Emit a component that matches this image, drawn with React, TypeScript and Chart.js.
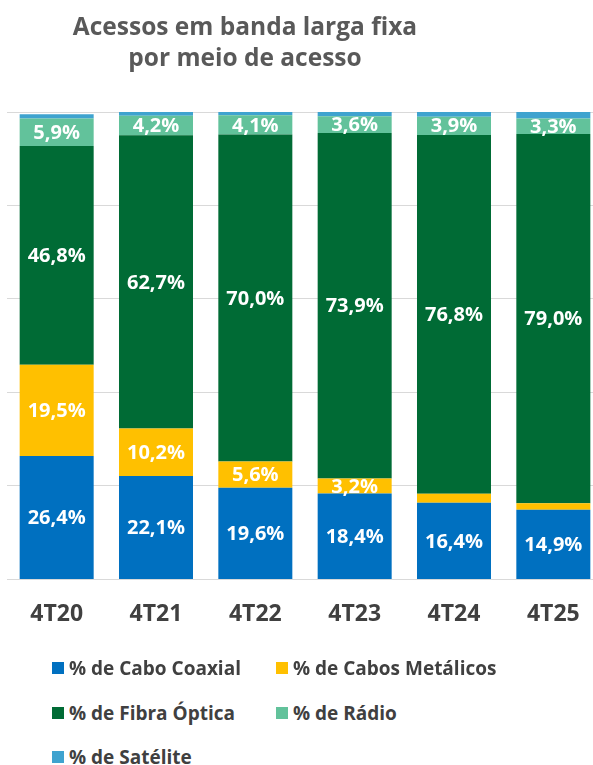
import React, { useEffect, useRef } from "react";
import { Chart, registerables } from "chart.js";

Chart.register(...registerables);

const categories = ["4T20", "4T21", "4T22", "4T23", "4T24", "4T25"];
const coaxial = [26.4, 22.1, 19.6, 18.4, 16.4, 14.9];
const metalicos = [19.5, 10.2, 5.6, 3.2, 1.9, 1.4];
const fibra = [46.8, 62.7, 70.0, 73.9, 76.8, 79.0];
const radio = [5.9, 4.2, 4.1, 3.6, 3.9, 3.3];
const satelite = [0.9, 0.8, 0.7, 0.9, 1.1, 1.4];

const seriesNames = [
  "% de Cabo Coaxial",
  "% de Cabos Metálicos",
  "% de Fibra Óptica",
  "% de Rádio",
  "% de Satélite",
];
const seriesColors = ["#0070C0", "#FFC000", "#006B35", "#62C29B", "#3FA3CF"];
const seriesValues = [coaxial, metalicos, fibra, radio, satelite];
const titleLines = ["Acessos em banda larga fixa", "por meio de acesso"];

const FONT = "'Open Sans', 'Noto Sans', sans-serif";

const labelPlugin = {
  id: "segLabels",
  afterDatasetsDraw(chart: any) {
    const ctx = chart.ctx;
    ctx.save();
    ctx.font = `bold 20px ${FONT}`;
    ctx.fillStyle = "#FFFFFF";
    ctx.textAlign = "center";
    ctx.textBaseline = "middle";
    chart.data.datasets.forEach((ds: any, di: number) => {
      const meta = chart.getDatasetMeta(di);
      meta.data.forEach((el: any, i: number) => {
        const v = ds.data[i];
        if (v < 3) return;
        const y = (el.y + el.base) / 2;
        ctx.fillText(v.toFixed(1).replace(".", ",") + "%", el.x, y + 1);
      });
    });
    ctx.restore();
  },
};

function ChartCanvas() {
  const ref = useRef<HTMLCanvasElement | null>(null);
  useEffect(() => {
    if (!ref.current) return;
    const chart = new Chart(ref.current, {
      type: "bar",
      data: {
        labels: categories,
        datasets: seriesNames.map((name, i) => ({
          label: name,
          data: seriesValues[i],
          backgroundColor: seriesColors[i],
          borderWidth: 0,
          barPercentage: 0.745,
          categoryPercentage: 1,
        })),
      },
      options: {
        responsive: false,
        animation: false,
        devicePixelRatio: 1,
        layout: { padding: { top: 112, left: 7, right: 7, bottom: 9 } },
        plugins: {
          legend: { display: false },
          title: { display: false },
          tooltip: { enabled: false },
        },
        scales: {
          x: {
            stacked: true,
            grid: { display: false, drawTicks: false },
            border: { display: false },
            ticks: {
              color: "#404040",
              padding: 21,
              font: { family: FONT, size: 23, weight: "bold" },
            },
          },
          y: {
            stacked: true,
            min: 0,
            max: 100,
            ticks: { display: false, stepSize: 20 },
            grid: { color: "#D9D9D9", lineWidth: 1, drawTicks: false },
            border: { display: false },
          },
        },
      },
      plugins: [labelPlugin],
    });
    return () => chart.destroy();
  }, []);
  return (
    <canvas
      ref={ref}
      width={610}
      height={658}
      style={{ position: "absolute", left: 0, top: 0, width: 610, height: 658 }}
    />
  );
}

export default function App() {
  const legendPos = [
    { x: 52, y: 668 },
    { x: 276, y: 668 },
    { x: 52, y: 713 },
    { x: 276, y: 713 },
    { x: 52, y: 757 },
  ];
  return (
    <div
      style={{
        position: "fixed",
        left: 0,
        top: 0,
        width: 593,
        height: 765,
        overflow: "hidden",
        background: "#FFFFFF",
        fontFamily: FONT,
      }}
    >
      <ChartCanvas />
      <div
        style={{
          position: "absolute",
          left: 0,
          top: 10,
          width: 490,
          textAlign: "center",
          color: "#595959",
          fontWeight: "bold",
          fontSize: 24.5,
          lineHeight: "31px",
        }}
      >
        {titleLines.map((t) => (
          <div key={t}>{t}</div>
        ))}
      </div>
      {seriesNames.map((name, i) => (
        <div
          key={name}
          style={{
            position: "absolute",
            left: legendPos[i].x,
            top: legendPos[i].y - 14,
            height: 28,
            display: "flex",
            alignItems: "center",
            whiteSpace: "nowrap",
          }}
        >
          <span
            style={{
              display: "inline-block",
              width: 12,
              height: 12,
              background: seriesColors[i],
              marginRight: 5,
            }}
          />
          <span style={{ color: "#404040", fontWeight: "bold", fontSize: 19 }}>{name}</span>
        </div>
      ))}
    </div>
  );
}
